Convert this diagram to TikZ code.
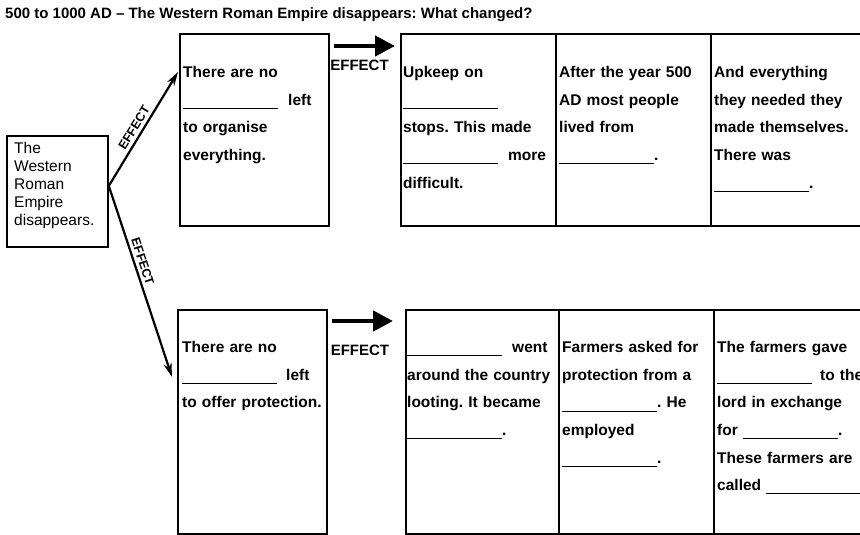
\documentclass[tikz,border=0pt]{standalone}
\usepackage{fontspec}
\setmainfont{Liberation Sans}
\usepackage{tikz}
\usetikzlibrary{arrows.meta}
\frenchspacing

\newcommand{\blank}{\rule[-3.5pt]{95pt}{0.8pt}}

\begin{document}
\begin{tikzpicture}[x=1pt, y=-1pt,
  box/.style={draw, line width=1.8pt, anchor=north west, inner sep=0pt},
  cell/.style={anchor=north west, inner sep=0pt, align=left, text width=150pt,
    font=\bfseries\fontsize{15.5}{27.6}\selectfont, execute at begin node=\strut},
  effect/.style={font=\bfseries\fontsize{15}{15}\selectfont},
  slant/.style={font=\bfseries\fontsize{12.5}{12.5}\selectfont, sloped, above, inner sep=3pt},
  link/.style={line width=2.2pt, -{Stealth[length=14pt,width=8pt]}},
  push/.style={line width=4.5pt, -{Triangle[length=20pt,width=20pt]}}]
\useasboundingbox (0,0) rectangle (860,535);
\clip (0,0) rectangle (860,535);
% --- title ---
\node[anchor=base west, inner sep=0pt, font=\bfseries\fontsize{15}{15}\selectfont] (title) at (5,18.5)
  {500 to 1000 AD -- The Western Roman Empire disappears: What changed?};
% --- cause ---
\node[box, minimum width=101pt, minimum height=111pt] (rome) at (6,135) {};
\node[anchor=north west, inner sep=0pt, align=left, font=\fontsize{15.5}{18}\selectfont,
  execute at begin node=\strut] (rometxt) at (14,142.5)
  {The\\Western\\Roman\\Empire\\disappears.};
% --- first row ---
\node[box, minimum width=149pt, minimum height=192pt] (orgbox) at (179,33) {};
\node[box, minimum width=155pt, minimum height=192pt] (rowAa) at (400,33) {};
\node[box, minimum width=155pt, minimum height=192pt] (rowAb) at (555,33) {};
\node[box, minimum width=160pt, minimum height=192pt] (rowAc) at (710,33) {};
\node[cell] (orgtxt) at (183,58.2)
  {There are no\\\blank\hspace{10pt}left\\to organise\\everything.};
\node[cell] (upkeep) at (403,58.2)
  {Upkeep on\\\blank\\stops. This made\\\blank\hspace{10pt}more\\difficult.};
\node[cell] (lived) at (559,58.2)
  {After the year 500\\AD most people\\lived from\\\blank.};
\node[cell] (made) at (714,58.2)
  {And everything\\they needed they\\made themselves.\\There was\\\blank.};
% --- second row ---
\node[box, minimum width=149pt, minimum height=224pt] (protbox) at (177,309) {};
\node[box, minimum width=153pt, minimum height=224pt] (rowBa) at (405,309) {};
\node[box, minimum width=155pt, minimum height=224pt] (rowBb) at (558,309) {};
\node[box, minimum width=160pt, minimum height=224pt] (rowBc) at (713,309) {};
\node[cell] (prottxt) at (182,333.2)
  {There are no\\\blank\hspace{9pt}left\\to offer protection.};
\node[cell] (looting) at (407,333.2)
  {\blank\hspace{10pt}went\\around the country\\looting. It became\\\blank.};
\node[cell] (asked) at (562,333.2)
  {Farmers asked for\\protection from a\\\blank. He\\employed\\\blank.};
\node[cell, text width=170pt] (gave) at (717,333.2)
  {The farmers gave\\\blank\hspace{8pt}to the\\lord in exchange\\for \blank.\\These farmers are\\called \blank};
% --- arrows ---
\draw[link] ([yshift=5.5pt]rome.east) -- ([xshift=-1pt,yshift=-39pt]orgbox.north west)
  node[pos=0.47, slant] {EFFECT};
\draw[link] ([yshift=5.5pt]rome.east) -- ([xshift=-5pt,yshift=-68pt]protbox.north west)
  node[pos=0.41, slant] {EFFECT};
\draw[push] ([xshift=4pt,yshift=-13pt]orgbox.north east) -- ([xshift=-5pt,yshift=-13pt]rowAa.north west)
  node[pos=0.42, below=8pt, effect] {EFFECT};
\draw[push] ([xshift=4pt,yshift=-12pt]protbox.north east) -- ([xshift=-12pt,yshift=-12pt]rowBa.north west)
  node[pos=0.46, below=18pt, effect] {EFFECT};
\end{tikzpicture}
\end{document}
